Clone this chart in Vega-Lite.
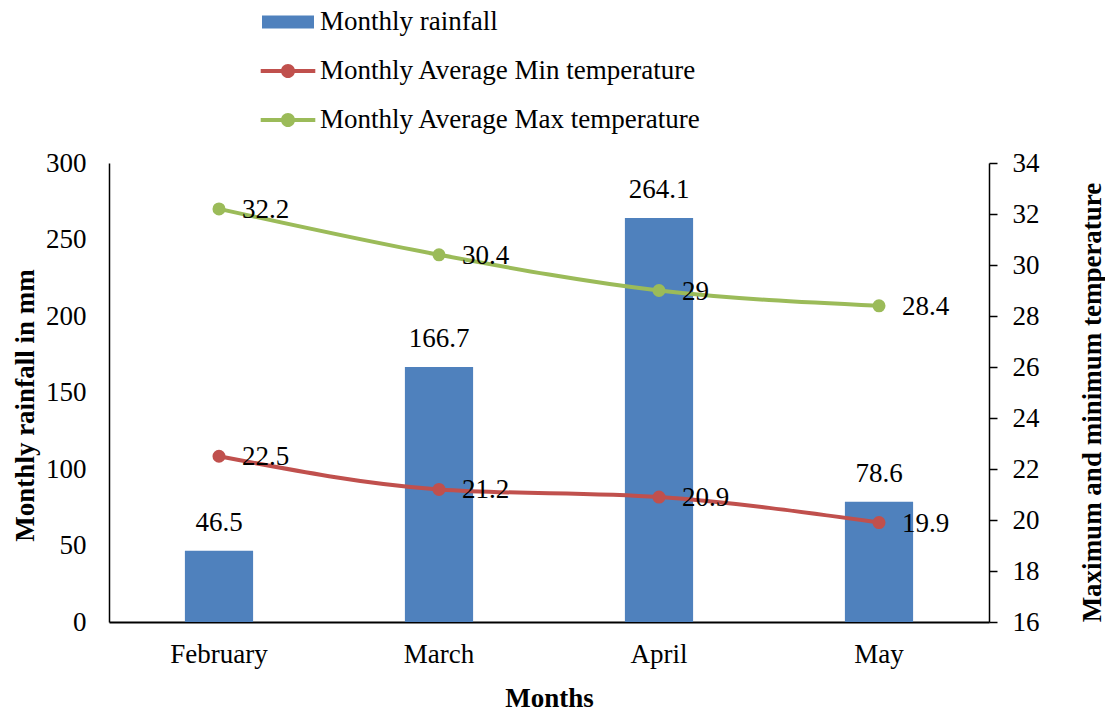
{
  "$schema": "https://vega.github.io/schema/vega-lite/v6.json",
  "width": 880,
  "height": 459,
  "autosize": {"type": "none"},
  "padding": {"left": 109, "top": 163, "right": 116, "bottom": 89},
  "background": "white",
  "config": {
    "font": "Liberation Serif",
    "view": {"stroke": null},
    "axis": {
      "labelFont": "Liberation Serif",
      "titleFont": "Liberation Serif",
      "labelFontSize": 27,
      "titleFontSize": 27,
      "labelColor": "#000000",
      "titleColor": "#000000",
      "domainColor": "#000000",
      "tickColor": "#000000",
      "grid": false
    }
  },
  "datasets": {
    "rain": [
      {"month": "February", "rainfall": 46.5},
      {"month": "March", "rainfall": 166.7},
      {"month": "April", "rainfall": 264.1},
      {"month": "May", "rainfall": 78.6}
    ],
    "temp": [
      {"month": "February", "series": "Monthly Average Min temperature", "value": 22.5},
      {"month": "March", "series": "Monthly Average Min temperature", "value": 21.2},
      {"month": "April", "series": "Monthly Average Min temperature", "value": 20.9},
      {"month": "May", "series": "Monthly Average Min temperature", "value": 19.9},
      {"month": "February", "series": "Monthly Average Max temperature", "value": 32.2},
      {"month": "March", "series": "Monthly Average Max temperature", "value": 30.4},
      {"month": "April", "series": "Monthly Average Max temperature", "value": 29},
      {"month": "May", "series": "Monthly Average Max temperature", "value": 28.4}
    ]
  },
  "encoding": {
    "x": {
      "field": "month",
      "type": "nominal",
      "sort": ["February", "March", "April", "May"],
      "scale": {"paddingInner": 0, "paddingOuter": 0},
      "axis": {
        "orient": "bottom",
        "ticks": false,
        "labelAngle": 0,
        "labelPadding": 19,
        "domainWidth": 2,
        "title": "Months",
        "titleFontWeight": "bold",
        "titlePadding": 18
      }
    }
  },
  "layer": [
    {
      "data": {"name": "rain"},
      "encoding": {
        "y": {
          "field": "rainfall",
          "type": "quantitative",
          "scale": {"domain": [0, 300], "nice": false},
          "axis": {
            "orient": "left",
            "ticks": false,
            "values": [0, 50, 100, 150, 200, 250, 300],
            "labelPadding": 23,
            "domainWidth": 1.5,
            "title": "Monthly rainfall in mm",
            "titleFontWeight": "bold",
            "titlePadding": 6,
            "titleY": 242
          }
        }
      },
      "layer": [
        {
          "mark": {"type": "bar", "width": {"band": 0.31}},
          "encoding": {
            "color": {
              "datum": "Monthly rainfall",
              "type": "nominal",
              "scale": {
                "domain": ["Monthly rainfall", "Monthly Average Min temperature", "Monthly Average Max temperature"],
                "range": ["#4F81BD", "#C0504D", "#9BBB59"]
              },
              "legend": {
                "orient": "none",
                "legendX": 153,
                "legendY": -167,
                "padding": 0,
                "title": null,
                "symbolSize": 2704,
                "labelFont": "Liberation Serif",
                "labelFontSize": 27,
                "labelColor": "#000000",
                "labelOffset": 6,
                "labelLimit": 0,
                "rowPadding": 10,
                "encode": {
                  "symbols": {
                    "update": {
                      "shape": {"signal": "datum.value === 'Monthly rainfall' ? 'M-1,-0.25H1V0.25H-1Z' : 'M-1.05,-0.08H1.05V0.08H-1.05Z M-0.27,0A0.27,0.27 0 1,1 0.27,0A0.27,0.27 0 1,1 -0.27,0Z'"},
                      "fill": {"signal": "datum.value === 'Monthly rainfall' ? '#4F81BD' : datum.value === 'Monthly Average Min temperature' ? '#C0504D' : '#9BBB59'"},
                      "stroke": {"value": "transparent"},
                      "strokeWidth": {"value": 0},
                      "opacity": {"value": 1},
                      "fillOpacity": {"value": 1}
                    }
                  }
                }
              }
            }
          }
        },
        {
          "mark": {"type": "text", "baseline": "middle", "dy": -28, "fontSize": 27, "color": "#000000"},
          "encoding": {"text": {"field": "rainfall", "type": "quantitative"}}
        }
      ]
    },
    {
      "data": {"name": "temp"},
      "encoding": {
        "y": {
          "field": "value",
          "type": "quantitative",
          "scale": {"domain": [16, 34], "nice": false, "zero": false},
          "axis": {
            "orient": "right",
            "tickSize": 8,
            "values": [16, 18, 20, 22, 24, 26, 28, 30, 32, 34],
            "labelPadding": 15,
            "domainWidth": 1.5,
            "tickWidth": 1.5,
            "title": "Maximum and minimum temperature",
            "titleFontWeight": "bold",
            "titleAngle": 270,
            "titleBaseline": "top",
            "titlePadding": 40,
            "titleY": 239
          }
        }
      },
      "layer": [
        {
          "mark": {"type": "line", "strokeWidth": 4, "interpolate": "monotone"},
          "encoding": {"color": {"field": "series", "type": "nominal", "legend": {"title": null}}}
        },
        {
          "mark": {"type": "point", "filled": true, "size": 170, "opacity": 1},
          "encoding": {"color": {"field": "series", "type": "nominal", "legend": {"title": null}}}
        },
        {
          "mark": {"type": "text", "align": "left", "baseline": "middle", "dx": 23, "dy": 1, "fontSize": 27, "color": "#000000"},
          "encoding": {"text": {"field": "value", "type": "quantitative"}}
        }
      ]
    }
  ],
  "resolve": {"scale": {"y": "independent"}}
}
